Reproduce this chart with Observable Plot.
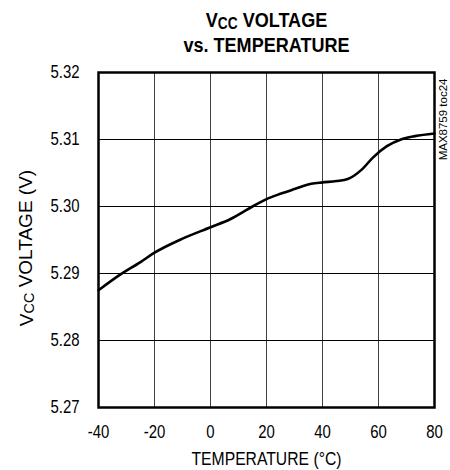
<!DOCTYPE html>
<html>
<head>
<meta charset="utf-8">
<script src="https://cdn.jsdelivr.net/npm/d3@7"></script>
<script src="https://cdn.jsdelivr.net/npm/@observablehq/plot@0.6"></script>
<style>
  html, body { margin: 0; padding: 0; background: #fff; }
  #chart svg { display: block; }
</style>
</head>
<body>
<div id="chart"></div>
<script>
// Data
const temperature = [-40, -32, -25, -20, -10, 0, 7, 15, 20, 25, 30, 36, 40, 45, 49, 54, 58, 63, 68, 73, 80];
const voltage = [5.2875, 5.2899, 5.2917, 5.2931, 5.2952, 5.2969, 5.2981, 5.3000, 5.3011, 5.3019, 5.3026, 5.3034, 5.3036, 5.3038, 5.3041, 5.3055, 5.3073, 5.3090, 5.3100, 5.3105, 5.3109];
const xTicks = [-40, -20, 0, 20, 40, 60, 80];
const yTicks = [5.27, 5.28, 5.29, 5.30, 5.31, 5.32];
const titleLines = ["VCC VOLTAGE", "vs. TEMPERATURE"];
const xLabel = "TEMPERATURE (°C)";
const yLabel = "VCC VOLTAGE (V)";
const figId = "MAX8759 toc24";

const data = temperature.map((t, i) => ({t, v: voltage[i]}));
const FONT = "'Liberation Sans', Arial, Helvetica, sans-serif";

const chart = Plot.plot({
  width: 450,
  height: 470,
  marginLeft: 98,
  marginRight: 16,
  marginTop: 72,
  marginBottom: 63,
  style: {fontFamily: FONT, fontSize: "18px", color: "#000", background: "#fff"},
  x: {domain: [-40, 80]},
  y: {domain: [5.27, 5.32]},
  marks: [
    Plot.gridX(xTicks, {stroke: "#000", strokeOpacity: 0.75, strokeWidth: 1}),
    Plot.gridY(yTicks, {stroke: "#000", strokeOpacity: 1, strokeWidth: 1}),
    Plot.axisX(xTicks, {tickSize: 0, tickPadding: 18, fontSize: 18, label: null, tickFormat: d => String(d)}),
    Plot.axisY(yTicks, {tickSize: 0, tickPadding: 19, fontSize: 18, label: null, tickFormat: d3.format(".2f")}),
    Plot.line(data, {x: "t", y: "v", stroke: "#000", strokeWidth: 2.6, curve: "monotone-x"}),
    Plot.frame({stroke: "#000", strokeWidth: 2.5}),
    Plot.text([titleLines[0]], {frameAnchor: "top", dy: -52, fontSize: 21, fontWeight: "bold", text: d => d, textAnchor: "middle", lineAnchor: "middle"}),
    Plot.text([titleLines[1]], {frameAnchor: "top", dy: -27, fontSize: 21, fontWeight: "bold", text: d => d, textAnchor: "middle", lineAnchor: "middle"}),
    Plot.text([xLabel], {frameAnchor: "bottom", dy: 52, fontSize: 18.5, text: d => d, textAnchor: "middle", lineAnchor: "middle"}),
    Plot.text([yLabel], {frameAnchor: "left", dx: -72, dy: 8, rotate: -90, fontSize: 19, text: d => d, textAnchor: "middle", lineAnchor: "middle"}),
    Plot.text([figId], {frameAnchor: "top-right", dx: 9, dy: 6, rotate: -90, fontSize: 11.5, text: d => d, textAnchor: "end", lineAnchor: "middle"})
  ]
});

// Narrow the type horizontally around each label's anchor (the reference uses a condensed face)
function squeezeEl(text, s) {
  const t = text.getAttribute("transform") || "";
  let pre = "";
  for (const a of ["x", "y"]) {
    const v = text.getAttribute(a);
    if (v != null && /^-?[\d.]+$/.test(v.trim())) {
      text.removeAttribute(a);
      pre += a === "x" ? ` translate(${+v},0)` : ` translate(0,${+v})`;
    }
  }
  text.setAttribute("transform", `${t}${pre} scale(${s},1)`);
}
chart.querySelectorAll('g[aria-label="x-axis tick label"] text, g[aria-label="y-axis tick label"] text')
  .forEach(t => squeezeEl(t, 0.83));
chart.querySelectorAll("text").forEach(t => {
  const s = t.textContent;
  if (titleLines.includes(s)) squeezeEl(t, 0.86);
  else if (s === xLabel) squeezeEl(t, 0.85);
});

// Render "CC" as a subscript in the Vcc labels
d3.select(chart).selectAll("text").each(function() {
  const node = d3.select(this);
  if (!node.select("tspan").empty()) return;
  const s = node.text();
  if (s.startsWith("VCC ")) {
    node.text("");
    node.append("tspan").text("V");
    node.append("tspan").attr("font-size", "0.76em").attr("dy", "0.1em").text("CC");
    node.append("tspan").attr("dy", "-0.1em").text(s.slice(3));
  }
});

document.getElementById("chart").appendChild(chart);
</script>
</body>
</html>
